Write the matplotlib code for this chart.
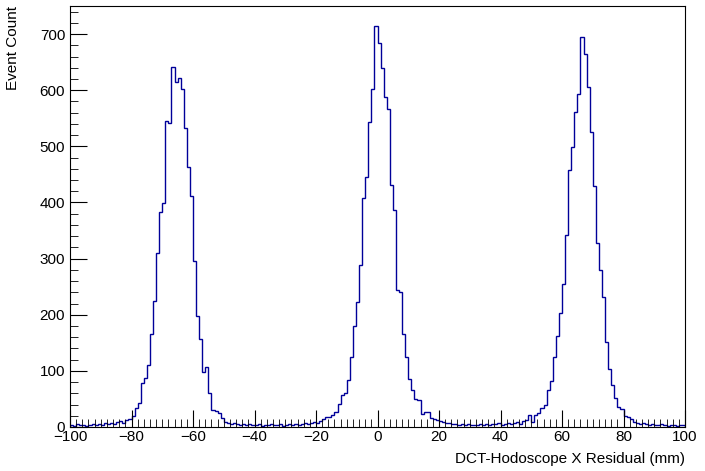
import numpy as np
import matplotlib
matplotlib.use("Agg")
import matplotlib.pyplot as plt
from matplotlib.ticker import MultipleLocator

plt.rcParams['font.family'] = ['Liberation Sans', 'DejaVu Sans']

# 1 mm bins from -100 to 100
edges = np.arange(-100, 101, 1)
left_tail = [3, 2, 5, 4, 3, 2, 4, 6, 3, 5, 4, 7, 5, 8, 6, 9, 10, 8, 12, 14]
peak_left = [20, 33, 42, 78, 87, 110, 165, 224, 310, 383, 399, 546, 541, 641, 614, 621,
             602, 532, 463, 411, 295, 198, 157, 98, 107, 60, 30, 28, 25, 16, 9]
gap_left = [8, 6, 7, 5, 4, 6, 3, 5, 4, 3, 5, 2, 4, 3, 6, 4, 3, 5, 2, 4, 5, 3, 6, 4, 5,
            7, 6, 8, 9, 7, 10]
peak_mid = [14, 18, 18, 21, 27, 41, 57, 60, 84, 125, 180, 222, 288, 408, 445, 543, 603,
            714, 684, 639, 587, 566, 431, 386, 244, 240, 165, 125, 85, 66, 50, 48, 23,
            27, 27, 16, 15]
gap_right = [12, 10, 9, 7, 8, 6, 5, 4, 6, 3, 5, 4, 3, 4, 6, 3, 5, 4, 6, 5, 7, 4, 6, 8,
             5, 7, 9, 6, 10, 12]
peak_right = [21, 9, 21, 25, 34, 39, 66, 82, 125, 162, 203, 255, 342, 457, 498, 562, 594,
              694, 664, 605, 525, 429, 328, 279, 231, 151, 103, 75, 52, 36, 32, 20, 18, 14]
right_tail = [9, 8, 6, 7, 5, 4, 6, 3, 4, 5, 3, 2, 4, 3, 2, 3, 4]
counts = left_tail + peak_left + gap_left + peak_mid + gap_right + peak_right + right_tail

fig = plt.figure(figsize=(7.05, 4.71), dpi=100)
ax = fig.add_axes([70 / 705, 44 / 471, 615 / 705, 421 / 471])
ax.stairs(counts, edges, color='#000099', linewidth=1.0, baseline=0)
ax.set_xlim(-100, 100)
ax.set_ylim(0, 750)

ax.xaxis.set_major_locator(MultipleLocator(20))
ax.xaxis.set_minor_locator(MultipleLocator(2))
ax.yaxis.set_major_locator(MultipleLocator(100))
ax.yaxis.set_minor_locator(MultipleLocator(20))
ax.tick_params(which='both', direction='in', top=False, right=False, labelsize=11)
ax.tick_params(which='major', length=12)
ax.tick_params(which='minor', length=6)
ax.tick_params(axis='x', pad=2)

ax.set_xlabel('DCT-Hodoscope X Residual (mm)', fontsize=11, loc='right', labelpad=6)
ax.set_ylabel('Event Count', fontsize=11, loc='top', labelpad=14)

fig.savefig('out.png', dpi=100)
